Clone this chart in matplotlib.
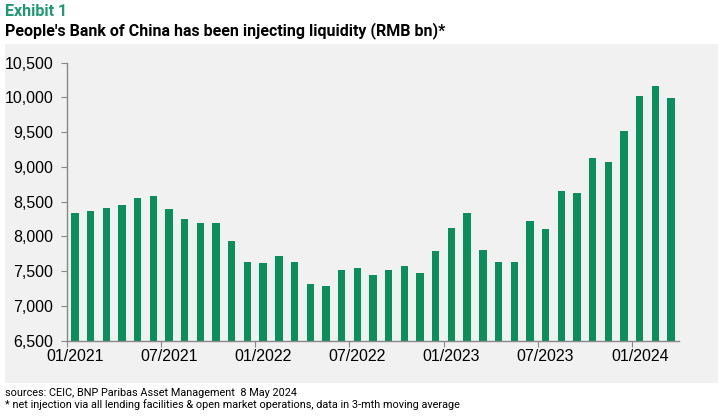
import matplotlib
matplotlib.use("Agg")
from matplotlib import pyplot as plt
from matplotlib.patches import Rectangle
import numpy as np

# monthly values, Jan 2021 .. Mar 2024 (RMB bn)
months = [f"{m:02d}/{y}" for y in (2021, 2022, 2023, 2024) for m in range(1, 13)][:39]
values = [8332, 8366, 8404, 8452, 8553, 8577, 8394, 8246, 8198, 8188,
          7929, 7627, 7617, 7718, 7637, 7315, 7291, 7517, 7541, 7445,
          7517, 7574, 7478, 7795, 8121, 8342, 7805, 7627, 7637, 8222,
          8102, 8649, 8625, 9128, 9071, 9517, 10025, 10159, 9992]
label_months = ["01/2021", "07/2021", "01/2022", "07/2022", "01/2023", "07/2023", "01/2024"]
yticks = [6500, 7000, 7500, 8000, 8500, 9000, 9500, 10000, 10500]

GREEN = "#0a8f5c"
TITLE_GREEN = "#1e9a6e"
PANEL = "#f1f1f1"
TXT = ["Roboto", "DejaVu Sans"]

W, H = 725, 417
fig = plt.figure(figsize=(W / 100, H / 100), dpi=100)

# grey panel behind the chart
fig.patches.append(Rectangle((5 / W, 1 - 383 / H), (718 - 5) / W, (383 - 44) / H,
                             transform=fig.transFigure, facecolor=PANEL, edgecolor="none", zorder=-5))

ax = fig.add_axes([67 / W, 1 - 340.7 / H, (679 - 67) / W, (340.7 - 62.7) / H])
ax.set_facecolor("none")
ax.set_zorder(2)

x = np.arange(len(values))
ax.bar(x, np.array(values) - 6500, bottom=6500, width=0.47, color=GREEN, zorder=2)

ax.set_xlim(-0.5, len(values) - 0.5)
ax.set_ylim(6500, 10500)
ax.set_yticks(yticks)
ax.set_yticklabels([f"{v:,}" for v in yticks], fontsize=11.5, family="Liberation Sans")

# category boundaries as ticks, labels on the bars
lab_pos = [months.index(m) for m in label_months]
ax.set_xticks([p - 0.5 for p in lab_pos])
ax.set_xticklabels([])
ax.set_xticks(lab_pos, minor=True)
ax.set_xticklabels(label_months, minor=True, fontsize=11.5, family="Liberation Sans")
ax.tick_params(axis="x", which="minor", length=0, pad=6)
ax.tick_params(axis="x", which="major", length=4, direction="out", color="#888888")
ax.tick_params(axis="y", length=4, direction="out", color="#888888", pad=6)

for s in ("top", "right"):
    ax.spines[s].set_visible(False)
for s in ("left", "bottom"):
    ax.spines[s].set_color("#888888")
    ax.spines[s].set_linewidth(1)

fig.text(5 / W, 1 - 12 / H, "Exhibit 1", color=TITLE_GREEN, fontsize=11.5, fontweight="bold",
         va="center", ha="left", family=TXT)
fig.text(5 / W, 1 - 31 / H, "People's Bank of China has been injecting liquidity (RMB bn)*",
         color="black", fontsize=11.5, fontweight="bold", va="center", ha="left", family=TXT)
fig.text(5 / W, 1 - 393 / H, "sources: CEIC, BNP Paribas Asset Management  8 May 2024",
         fontsize=7.8, va="center", ha="left", family=TXT)
fig.text(5 / W, 1 - 405 / H,
         "* net injection via all lending facilities & open market operations, data in 3-mth moving average",
         fontsize=7.8, va="center", ha="left", family=TXT)

fig.savefig("out.png", dpi=100)
